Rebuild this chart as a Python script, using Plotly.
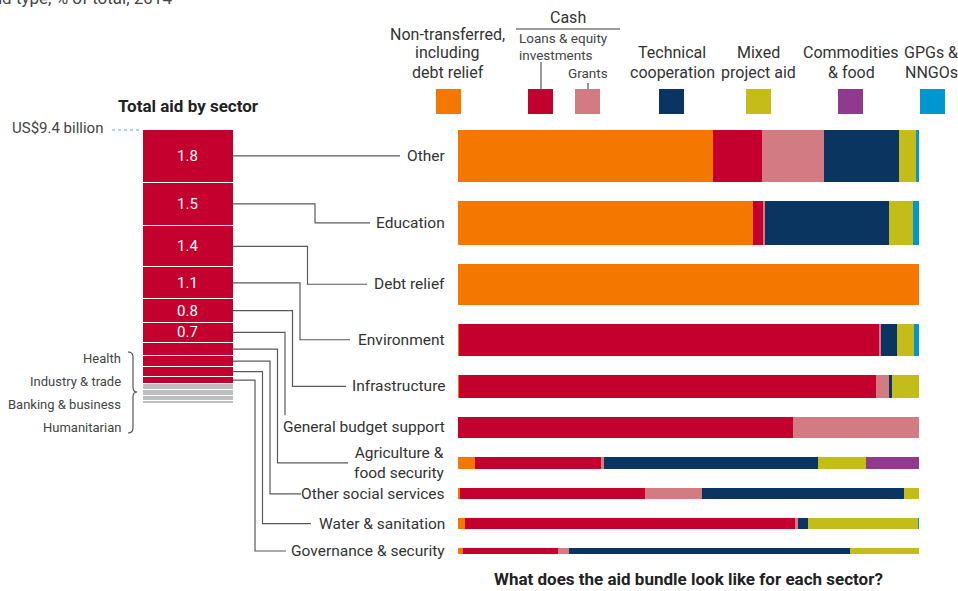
import numpy as np
import plotly.graph_objects as go

W, H = 958, 591
FONT = "Roboto"

# ---------------- data ----------------
sectors = ["Other", "Education", "Debt relief", "Environment", "Infrastructure",
           "General budget support", "Agriculture &<br>food security",
           "Other social services", "Water & sanitation", "Governance & security"]
sector_totals = [1.8, 1.5, 1.4, 1.1, 0.8, 0.7, 0.44, 0.38, 0.35, 0.23]   # US$ billion
minor_sectors = ["Health", "Industry & trade", "Banking & business", "Humanitarian"]
minor_totals = [0.2, 0.2, 0.18, 0.12]
total_label = "US$9.4 billion"

aid_types = ["Non-transferred, including debt relief", "Loans & equity investments", "Grants",
             "Technical cooperation", "Mixed project aid", "Commodities & food", "GPGs & NNGOs"]
non_transferred = [55.3, 64.0, 100, 0.2, 0.3, 0, 3.7, 0.4, 1.5, 1.1]
loans_equity = [10.6, 2.2, 0, 91.3, 90.4, 72.7, 27.3, 40.1, 71.8, 20.6]
grants = [13.4, 0.4, 0, 0.2, 3.0, 27.3, 0.7, 12.4, 0.4, 2.4]
technical = [16.3, 26.9, 0, 3.5, 0.4, 0, 46.4, 43.8, 2.2, 61.0]
mixed_project = [3.7, 5.2, 0, 3.7, 5.9, 0, 10.4, 3.3, 23.9, 14.9]
commodities = [0, 0, 0, 0, 0, 0, 11.5, 0, 0, 0]
gpgs_nngos = [0.7, 1.3, 0, 1.1, 0, 0, 0, 0, 0.2, 0]

# ---------------- styles / layout constants ----------------
C_ORANGE = "#F47700"
C_RED = "#C4002F"
C_PINK = "#D37B82"
C_NAVY = "#0B3561"
C_OLIVE = "#C3BC19"
C_PURPLE = "#8F3A8C"
C_BLUE = "#0096CF"
C_GRAY = "#BDBEC0"
TXT = "#333333"
LINE = "#595959"

type_series = [non_transferred, loans_equity, grants, technical, mixed_project, commodities, gpgs_nngos]
type_colors = [C_ORANGE, C_RED, C_PINK, C_NAVY, C_OLIVE, C_PURPLE, C_BLUE]

PX_PER_UNIT = 29.2
TOP_PX = 129.5
GAP_UNITS = 0.65


def px(x):
    return x / W


def py(y):
    return 1 - y / H


# left stacked column
all_vals = np.array(sector_totals + minor_totals)
bases = np.concatenate([[0], np.cumsum(all_vals)[:-1]])
left_centers = bases + all_vals / 2
left_colors = [C_RED] * len(sector_totals) + [C_GRAY] * len(minor_totals)

# right bars: thickness proportional to sector total, constant gap
st = np.array(sector_totals)
tops = np.concatenate([[0], np.cumsum(st)[:-1]]) + GAP_UNITS * np.arange(len(st))
right_centers = tops + st / 2

fig = go.Figure()

fig.add_trace(go.Bar(
    x=[0] * len(all_vals), y=all_vals, base=bases, width=1,
    marker=dict(color=left_colors, line=dict(color="white", width=1)),
    xaxis="x", yaxis="y", hoverinfo="skip", showlegend=False))

for name, vals, col in zip(aid_types, type_series, type_colors):
    fig.add_trace(go.Bar(
        x=vals, y=right_centers, width=st, orientation="h", name=name,
        marker=dict(color=col, line=dict(width=0)),
        xaxis="x2", yaxis="y", showlegend=False, hoverinfo="skip"))

shapes = []
annotations = []

# values inside the left column
for v, c in zip(all_vals, left_centers):
    if v >= 0.6:
        annotations.append(dict(x=0, y=c, xref="x", yref="y", text=f"{v:.1f}",
                                showarrow=False, xanchor="center", yanchor="middle",
                                font=dict(family=FONT, size=15, color="white")))


def ann(text, x, y, size=16, color=TXT, bold=False, xanchor="center", yanchor="middle"):
    annotations.append(dict(
        x=px(x), y=py(y), xref="paper", yref="paper", text=(f"<b>{text}</b>" if bold else text),
        showarrow=False, xanchor=xanchor, yanchor=yanchor,
        font=dict(family=FONT, size=size, color=color)))


def pline(x0, y0, x1, y1, color=TXT, width=1, dash=None):
    shapes.append(dict(type="line", xref="paper", yref="paper",
                       x0=px(x0), y0=py(y0), x1=px(x1), y1=py(y1),
                       line=dict(color=color, width=width, dash=dash)))


# connectors
bar_right = 233
elbow_x = [None] + [322.5 - 7.5 * i for i in range(1, len(sectors))]
line_end = [400, 370, 367, 350, 346, None, 348, 301, 311, 286]
for i in range(len(sectors)):
    sy = left_centers[i]
    ty = right_centers[i]
    if i == 0:
        path = f"M{px(bar_right)},{sy} L{px(line_end[i])},{sy}"
    elif line_end[i] is None:
        path = (f"M{px(bar_right)},{sy} L{px(elbow_x[i])},{sy} "
                f"L{px(elbow_x[i])},{ty - 12 / PX_PER_UNIT}")
    else:
        path = (f"M{px(bar_right)},{sy} L{px(elbow_x[i])},{sy} "
                f"L{px(elbow_x[i])},{ty} L{px(line_end[i])},{ty}")
    shapes.append(dict(type="path", path=path, xref="paper", yref="y",
                       line=dict(color=LINE, width=1.2)))
    annotations.append(dict(x=px(447), y=ty, xref="paper", yref="y", text=sectors[i],
                            showarrow=False, xanchor="right", yanchor="middle",
                            font=dict(family=FONT, size=15.5, color=TXT)))

# minor sectors labels + bracket
for j, lab in enumerate(minor_sectors):
    ann(lab, 123, 358 + 23 * j, size=13, color="#444444", xanchor="right")
path = (f"M{px(128)},{py(352)} Q{px(133)},{py(352)} {px(133)},{py(357)} "
        f"L{px(133)},{py(387)} Q{px(133)},{py(392)} {px(137)},{py(392)} "
        f"Q{px(133)},{py(392)} {px(133)},{py(397)} L{px(133)},{py(428)} "
        f"Q{px(133)},{py(433)} {px(128)},{py(433)}")
shapes.append(dict(type="path", path=path, xref="paper", yref="paper",
                   line=dict(color="#444444", width=1.1)))

# total label
ann(total_label, 105, 128, size=15, color="#444444", xanchor="right")
pline(112, 130, 141, 130, color="#5BA7D6", width=1, dash="dot")
ann("Total aid by sector", 188, 106, size=17, bold=True, color="#222222")
ann("What does the aid bundle look like for each sector?", 688, 579, size=17, bold=True,
    color="#222222")
ann("by sector and type, % of total, 2014", 174, -2, size=17, color="#444444", xanchor="right")

# legend
sq = 25
legend_sq = [(436, C_ORANGE), (528, C_RED), (575, C_PINK), (659, C_NAVY),
             (746, C_OLIVE), (838, C_PURPLE), (920, C_BLUE)]
for x0, col in legend_sq:
    shapes.append(dict(type="rect", xref="paper", yref="paper",
                       x0=px(x0), x1=px(x0 + sq), y0=py(89), y1=py(89 + sq),
                       fillcolor=col, line=dict(width=0)))

ann("Non-transferred,", 447, 34)
ann("including", 447, 53)
ann("debt relief", 448, 72)
ann("Cash", 568, 17)
pline(516, 29, 620, 29, color=TXT, width=1)
ann("Loans & equity", 517, 38, size=13.5, color="#444444", xanchor="left")
ann("investments", 517, 55, size=13.5, color="#444444", xanchor="left")
ann("Grants", 588, 73, size=13.5, color="#444444")
pline(541, 62, 541, 89, color=TXT, width=1)
pline(588, 83, 588, 89, color=TXT, width=1)
ann("Technical", 672, 53)
ann("cooperation", 672, 72)
ann("Mixed", 758, 53)
ann("project aid", 758, 72)
ann("Commodities", 851, 53)
ann("& food", 851, 72)
ann("GPGs &", 931, 53)
ann("NNGOs", 931, 72)

fig.update_layout(
    width=W, height=H, margin=dict(l=0, r=0, t=0, b=0),
    paper_bgcolor="white", plot_bgcolor="rgba(0,0,0,0)",
    barmode="stack", showlegend=False,
    xaxis=dict(domain=[px(142), px(233)], range=[-0.5, 0.5], visible=False, anchor="y",
               fixedrange=True),
    xaxis2=dict(domain=[px(458), px(919)], range=[0, 100], visible=False, anchor="y",
                fixedrange=True),
    yaxis=dict(domain=[0, 1], range=[(H - TOP_PX) / PX_PER_UNIT, -TOP_PX / PX_PER_UNIT],
               autorange=False, visible=False, fixedrange=True),
    shapes=shapes, annotations=annotations,
    font=dict(family=FONT, color=TXT),
)

fig.write_html("out.html", config={"displayModeBar": False},
               post_script="document.body.style.margin='0px';")
